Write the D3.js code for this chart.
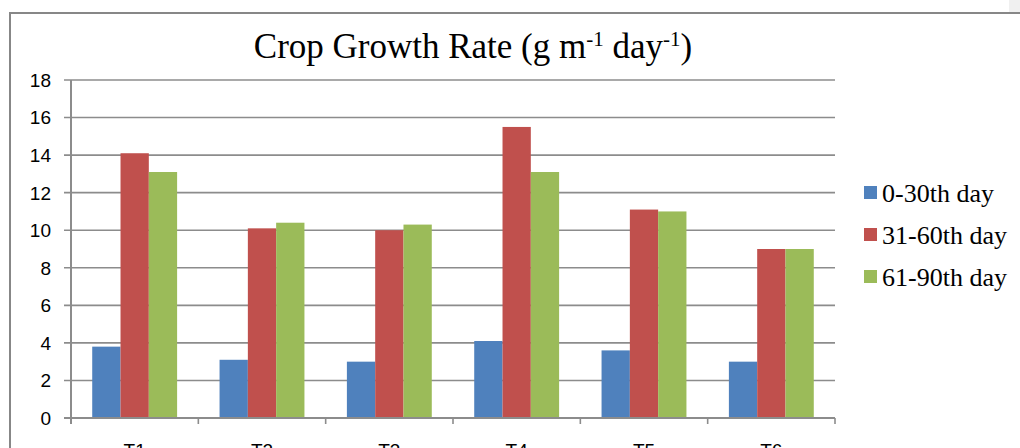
<!DOCTYPE html>
<html>
<head>
<meta charset="utf-8">
<script src="https://cdn.jsdelivr.net/npm/d3@7"></script>
<style>
  body { margin: 0; background: #fff; }
  svg { display: block; }
</style>
</head>
<body>
<div id="chart"></div>
<script>
// chart values
var categories = ["T1", "T2", "T3", "T4", "T5", "T6"];
var seriesNames = ["0-30th day", "31-60th day", "61-90th day"];
var day0_30 = [3.8, 3.1, 3.0, 4.1, 3.6, 3.0];
var day31_60 = [14.1, 10.1, 10.0, 15.5, 11.1, 9.0];
var day61_90 = [13.1, 10.4, 10.3, 13.1, 11.0, 9.0];
var yTicks = [0, 2, 4, 6, 8, 10, 12, 14, 16, 18];

var colors = ["#4f81bd", "#c0504d", "#9bbb59"];
var seriesValues = [day0_30, day31_60, day61_90];

var svgWidth = 1020, svgHeight = 448;
var margin = {top: 80, left: 71};
var plotW = 835 - margin.left, plotH = 418 - margin.top;

var svg = d3.select("#chart").append("svg")
	.attr("width", svgWidth)
	.attr("height", svgHeight);

// outer chart frame (cut off at bottom/right like the picture)
svg.append("rect").attr("x", 1009).attr("y", 0).attr("width", 11).attr("height", 12).attr("fill", "#f0f0f0");
svg.append("line").attr("x1", 10).attr("x2", 1020).attr("y1", 13).attr("y2", 13)
	.attr("stroke", "#878787").attr("stroke-width", 2);
svg.append("line").attr("x1", 10).attr("x2", 10).attr("y1", 12).attr("y2", 448)
	.attr("stroke", "#878787").attr("stroke-width", 2);

// title
var title = svg.append("text")
	.attr("x", 473).attr("y", 58)
	.attr("text-anchor", "middle")
	.style("font-family", "'Liberation Serif', 'Times New Roman', serif")
	.style("font-size", "35px")
	.attr("fill", "#000");
title.append("tspan").text("Crop Growth Rate (g m");
title.append("tspan").attr("dy", -12).style("font-size", "21px").text("-1");
title.append("tspan").attr("dy", 12).text(" day");
title.append("tspan").attr("dy", -12).style("font-size", "21px").text("-1");
title.append("tspan").attr("dy", 12).text(")");

var g = svg.append("g").attr("transform", "translate(" + margin.left + "," + margin.top + ")");

var x0 = d3.scaleBand().domain(categories).range([0, plotW]).paddingInner(0).paddingOuter(0);
var barW = x0.bandwidth() / 4.5; // gap width 150% of a bar
var x1 = d3.scaleBand().domain(d3.range(3)).range([barW * 0.75, x0.bandwidth() - barW * 0.75]);
var y = d3.scaleLinear().domain([0, 18]).range([plotH, 0]);

// gridlines
g.append("g").selectAll("line").data(yTicks).enter().append("line")
	.attr("x1", -7).attr("x2", plotW)
	.attr("y1", function(d) { return y(d); })
	.attr("y2", function(d) { return y(d); })
	.attr("stroke", "#8c8c8c").attr("stroke-width", 1.6);

// y labels
g.append("g").selectAll("text").data(yTicks).enter().append("text")
	.attr("x", -20)
	.attr("y", function(d) { return y(d); })
	.attr("dy", "0.36em")
	.attr("text-anchor", "end")
	.style("font-family", "'Liberation Sans', Arial, sans-serif")
	.style("font-size", "19px")
	.attr("fill", "#000")
	.text(function(d) { return d; });

// bars
var groups = g.selectAll(".grp").data(categories).enter().append("g")
	.attr("transform", function(d) { return "translate(" + x0(d) + ",0)"; });

groups.selectAll("rect")
	.data(function(d, i) { return seriesValues.map(function(s, k) { return {k: k, v: s[i]}; }); })
	.enter().append("rect")
	.attr("x", function(d) { return x1(d.k); })
	.attr("width", x1.bandwidth())
	.attr("y", function(d) { return y(d.v); })
	.attr("height", function(d) { return plotH - y(d.v); })
	.attr("fill", function(d) { return colors[d.k]; });

// axes lines
g.append("line").attr("x1", 0).attr("x2", 0).attr("y1", 0).attr("y2", plotH + 6)
	.attr("stroke", "#8c8c8c").attr("stroke-width", 2);
g.append("line").attr("x1", -7).attr("x2", plotW).attr("y1", plotH).attr("y2", plotH)
	.attr("stroke", "#8c8c8c").attr("stroke-width", 2);
g.append("g").selectAll("line").data(d3.range(categories.length + 1)).enter().append("line")
	.attr("x1", function(i) { return i * x0.bandwidth(); })
	.attr("x2", function(i) { return i * x0.bandwidth(); })
	.attr("y1", plotH).attr("y2", plotH + 6)
	.attr("stroke", "#8c8c8c").attr("stroke-width", 1.6);

// category labels (mostly below the visible area, as in the picture)
g.append("g").selectAll("text").data(categories).enter().append("text")
	.attr("x", function(d) { return x0(d) + x0.bandwidth() / 2; })
	.attr("y", plotH + 39)
	.attr("text-anchor", "middle")
	.style("font-family", "'Liberation Sans', Arial, sans-serif")
	.style("font-size", "19px")
	.attr("fill", "#000")
	.text(function(d) { return d; });

// legend
var legend = svg.append("g").attr("transform", "translate(864,193)");
var items = legend.selectAll("g").data(seriesNames).enter().append("g")
	.attr("transform", function(d, i) { return "translate(0," + i * 42 + ")"; });
items.append("rect").attr("x", 0).attr("y", -7).attr("width", 13).attr("height", 13)
	.attr("fill", function(d, i) { return colors[i]; });
items.append("text").attr("x", 18).attr("y", 0).attr("dy", "0.33em")
	.style("font-family", "'Liberation Serif', 'Times New Roman', serif")
	.style("font-size", "26px")
	.attr("fill", "#000")
	.text(function(d) { return d; });
</script>
</body>
</html>
